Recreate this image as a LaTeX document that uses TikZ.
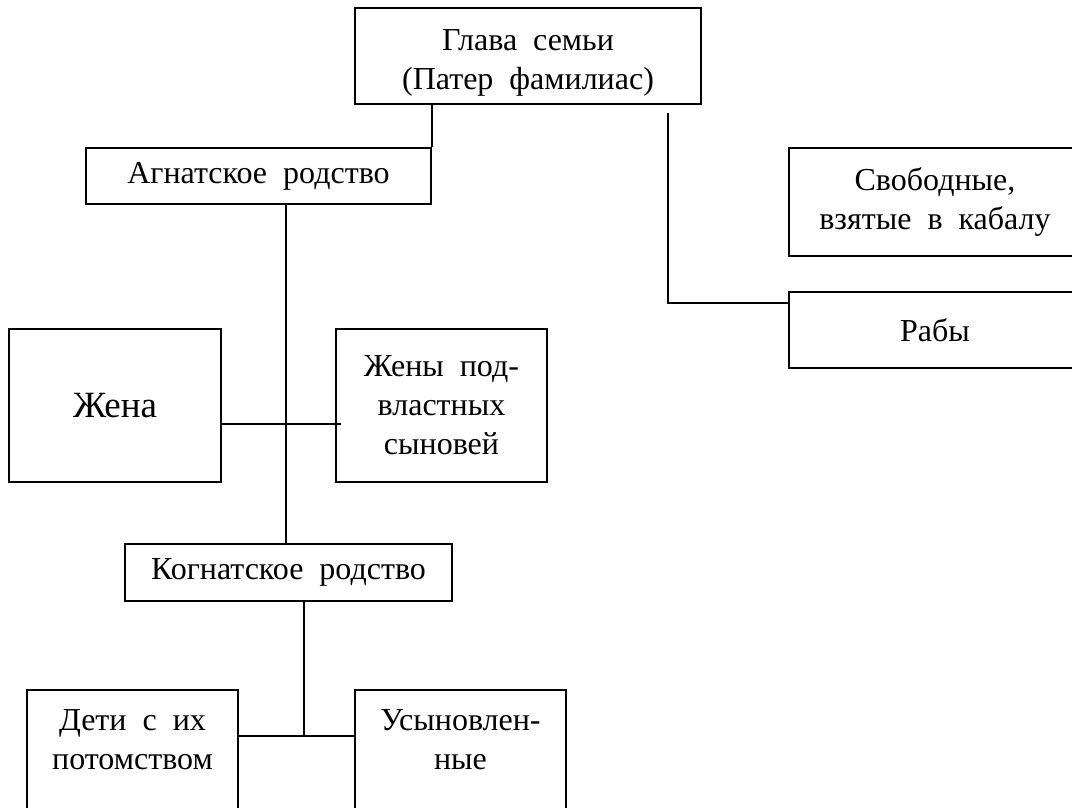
\documentclass[tikz,border=0pt]{standalone}
\usepackage{fontspec}
\setmainfont{Liberation Serif}
\usepackage{tikz}
\usetikzlibrary{calc,positioning}

\begin{document}
\begin{tikzpicture}[x=1pt,y=-1pt,line width=1.6pt,
				famblock/.style={draw, align=center, inner sep=0pt, font=\fontsize{32}{39}\selectfont}
				,bigblock/.style={famblock, font=\fontsize{37}{44}\selectfont}
				]
				\useasboundingbox (0,0) rectangle (1072,807);
				
				\node[famblock, minimum width=346, minimum height=96] (glava) at (528,56) {\mbox{}\\[-5pt]Глава\ \ семьи\\(Патер\ \ фамилиас)};
				\node[famblock, minimum width=345, minimum height=56] (agnat) at (258.5,176) {Агнатское\ \ родство};
				\node[famblock, minimum width=292, minimum height=108] (svob) at (935,202) {Свободные,\\взятые\ \ в\ \ кабалу};
				\node[famblock, minimum width=292, minimum height=76] (raby) at (935,330) {Рабы};
				\node[bigblock, minimum width=212, minimum height=153] (zhena) at (115,405.5) {Жена};
				\node[famblock, minimum width=211, minimum height=153] (zheny) at (441.5,405.5) {Жены\ \ под-\\властных\\сыновей};
				\node[famblock, minimum width=327, minimum height=57] (kognat) at (288.5,572.5) {Когнатское\ \ родство};
				\node[famblock, minimum width=211, minimum height=122] (deti) at (132.5,751) {Дети\ \ с\ \ их\\потомством\\[-16pt]\mbox{}};
				\node[famblock, minimum width=211, minimum height=122] (usyn) at (460.5,751) {Усыновлен-\\ные\\[-16pt]\mbox{}};
				
				\coordinate (rabyknee) at (668,303);
				\coordinate (agnatline) at (286,0);
				\coordinate (wives) at (0,424);
				\coordinate (kids) at (304,736);
				
				\draw (glava.south -| agnat.north east) -- (agnat.north east);
				\draw[shorten <=8pt] (glava.south -| rabyknee) |- (raby.west |- rabyknee);
				\draw (agnat.south -| agnatline) -- (kognat.north -| agnatline);
				\draw (zhena.east |- wives) -- ([xshift=6pt]zheny.west |- wives);
				\draw (kognat.south -| kids) -- (kids);
				\draw (deti.east |- kids) -- (usyn.west |- kids);
			\end{tikzpicture}
\end{document}
